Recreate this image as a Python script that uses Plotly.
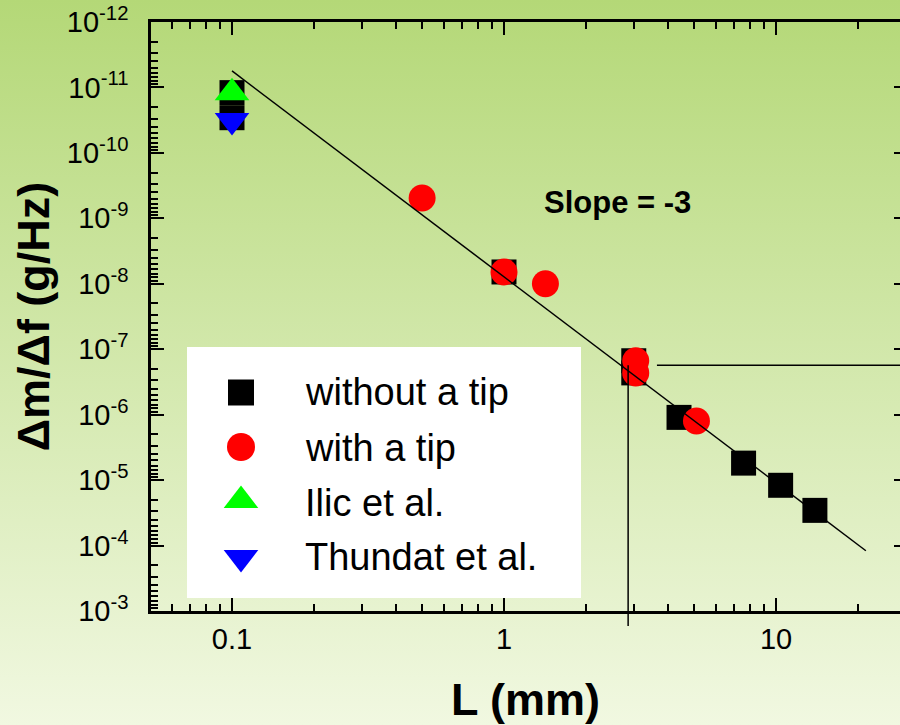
import base64
import math
import plotly.graph_objects as go

# ---------------- data ----------------
sq_L = [0.1, 0.1, 1.0, 3.0, 3.0, 4.4, 7.6, 10.4, 13.9]
sq_v = [1.2e-11, 2.9e-11, 6.6e-9, 1.5e-7, 2.3e-7, 1.1e-6, 5.5e-6, 1.2e-5, 2.9e-5]

ci_L = [0.5, 1.0, 1.42, 3.05, 3.05, 5.1]
ci_v = [4.9e-10, 6.6e-9, 1.0e-8, 1.5e-7, 2.3e-7, 1.25e-6]

ilic_L = [0.1]
ilic_v = [1.2e-11]

thun_L = [0.1]
thun_v = [3.2e-11]

fit_L = [0.1, 21.4]
fit_v = [5.6e-12, 1.2e-4]

guide_L = 2.86        # vertical guide
guide_v = 1.75e-7     # horizontal guide level
guide_h_start = 3.65

x_ticks = [0.1, 1, 10]
x_ticktext = ["0.1", "1", "10"]
y_exps = list(range(-12, -2))
y_ticks = [10.0 ** e for e in y_exps]
y_ticktext = ["10<sup>%d</sup>" % e for e in y_exps]

names = ["without a tip", "with a tip", "Ilic et al.", "Thundat et al."]
slope_label = "Slope = -3"

# ---------------- layout constants ----------------
W, H = 900, 725
ML, MR, MT, MB = 151, 0, 22, 114
PW, PH = W - ML - MR, H - MT - MB
XR = [-1.2978, 1.4559]
YR = [-3, -12]
FONT = "Liberation Sans, Arial, sans-serif"

# legend box layout (pixel positions)
LEG_BOX = (187, 347, 581, 598)
LEG_MARK_X = 241
LEG_MARK_Y = [392.5, 447, 500.6, 557.4]
LEG_TEXT_X = 303
LEG_TEXT_Y = [392, 448, 503, 557]
LEG_SYMBOLS = ["square", "circle", "triangle-up", "triangle-down"]
LEG_COLORS = ["black", "#ff0000", "#00ff00", "#0000ff"]
LEG_SIZES = [26, 28, 30, 30]


def xp(v):
    return (math.log10(v) - XR[0]) / (XR[1] - XR[0])


def yp(v):
    return (math.log10(v) - YR[0]) / (YR[1] - YR[0])


minor_x = [m * 10.0 ** d for d in range(-2, 2) for m in range(2, 10)]
minor_y = [m * 10.0 ** d for d in range(-13, -3) for m in range(2, 10)]

# background gradient image
svg = ('<svg xmlns="http://www.w3.org/2000/svg" width="900" height="725" '
       'preserveAspectRatio="none"><defs><linearGradient id="g" x1="0" y1="0" '
       'x2="0" y2="1"><stop offset="0" stop-color="#b4d877"/>'
       '<stop offset="1" stop-color="#f1f8e1"/></linearGradient></defs>'
       '<rect width="900" height="725" fill="url(#g)"/></svg>')
bg_src = "data:image/svg+xml;base64," + base64.b64encode(svg.encode()).decode()

fig = go.Figure()
fig.add_trace(go.Scatter(x=sq_L, y=sq_v, mode="markers", name=names[0],
                         showlegend=False,
                         marker=dict(symbol="square", size=25, color="black",
                                     opacity=1, line=dict(width=0))))
fig.add_trace(go.Scatter(x=ci_L, y=ci_v, mode="markers", name=names[1],
                         showlegend=False,
                         marker=dict(symbol="circle", size=27, color="#ff0000",
                                     opacity=1, line=dict(width=0))))
fig.add_trace(go.Scatter(x=ilic_L, y=ilic_v, mode="markers", name=names[2],
                         showlegend=False,
                         marker=dict(symbol="triangle-up", size=30, color="#00ff00",
                                     opacity=1, line=dict(width=0))))
fig.add_trace(go.Scatter(x=thun_L, y=thun_v, mode="markers", name=names[3],
                         showlegend=False,
                         marker=dict(symbol="triangle-down", size=30, color="#0000ff",
                                     opacity=1, line=dict(width=0))))
fig.add_trace(go.Scatter(x=fit_L, y=fit_v, mode="lines", showlegend=False,
                         line=dict(color="black", width=1.5), hoverinfo="skip"))

# legend drawn on a pixel-mapped overlay axis pair
fig.add_shape(type="rect", xref="x2", yref="y2",
              x0=LEG_BOX[0], x1=LEG_BOX[2], y0=LEG_BOX[1], y1=LEG_BOX[3],
              fillcolor="white", line=dict(width=0), layer="below")
fig.add_trace(go.Scatter(x=[LEG_MARK_X] * 4, y=LEG_MARK_Y, mode="markers",
                         xaxis="x2", yaxis="y2", showlegend=False,
                         hoverinfo="skip",
                         marker=dict(symbol=LEG_SYMBOLS, color=LEG_COLORS,
                                     size=LEG_SIZES, opacity=1,
                                     line=dict(width=0))))
for nm, ty in zip(names, LEG_TEXT_Y):
    fig.add_annotation(x=LEG_TEXT_X, y=ty, xref="x2", yref="y2", text=nm,
                       showarrow=False, xanchor="left", yanchor="middle",
                       font=dict(family=FONT, size=38, color="black"))

# right-side tick marks
fig.add_trace(go.Scatter(x=[None], y=[None], yaxis="y3", showlegend=False,
                         hoverinfo="skip"))

# guide lines
fig.add_shape(type="line", xref="paper", yref="paper",
              x0=xp(guide_L), x1=xp(guide_L), y0=yp(guide_v), y1=-15 / PH,
              line=dict(color="black", width=1.5))
fig.add_shape(type="line", xref="paper", yref="paper",
              x0=xp(guide_h_start), x1=1.02, y0=yp(guide_v), y1=yp(guide_v),
              line=dict(color="black", width=1.5))

fig.add_annotation(x=math.log10(2.62), y=math.log10(5.8e-10), xref="x", yref="y",
                   text="<b>%s</b>" % slope_label, showarrow=False,
                   font=dict(family=FONT, size=31, color="black"))

fig.add_layout_image(source=bg_src, xref="paper", yref="paper",
                     x=-ML / PW, y=1 + MT / PH, sizex=W / PW, sizey=H / PH,
                     xanchor="left", yanchor="top", sizing="stretch",
                     layer="below")

axis_common = dict(showgrid=False, zeroline=False, showline=True,
                   linecolor="black", linewidth=2.5, ticks="inside",
                   ticklen=13, tickwidth=2, tickcolor="black",
                   tickfont=dict(family=FONT, size=29, color="black"))

fig.update_layout(
    xaxis=dict(type="log", range=XR, tickvals=x_ticks, ticktext=x_ticktext,
               mirror="ticks",
               minor=dict(tickvals=minor_x, ticks="inside", ticklen=7,
                          tickwidth=1.5, tickcolor="black", showgrid=False),
               title=dict(text="<b>L (mm)</b>", standoff=32,
                          font=dict(family=FONT, size=45, color="black")),
               automargin=False, **axis_common),
    yaxis=dict(type="log", range=YR, tickvals=y_ticks, ticktext=y_ticktext,
               mirror=False, ticklabelstandoff=14,
               minor=dict(tickvals=minor_y, ticks="inside", ticklen=7,
                          tickwidth=1.5, tickcolor="black", showgrid=False),
               title=dict(text="<b>\u0394m/\u0394f (g/Hz)</b>", standoff=4,
                          font=dict(family=FONT, size=45, color="black")),
               automargin=False, **axis_common),
    xaxis2=dict(overlaying="x", anchor="y2", range=[ML, W], visible=False,
                fixedrange=True),
    yaxis2=dict(overlaying="y", anchor="x2", range=[H - MB, MT], visible=False,
                fixedrange=True),
    yaxis3=dict(overlaying="y", side="right", type="log", range=YR,
                tickvals=y_ticks, showticklabels=False, ticks="inside",
                ticklen=6, tickwidth=2, tickcolor="black", showline=False,
                showgrid=False, zeroline=False, automargin=False),
    width=W, height=H,
    margin=dict(l=ML, r=MR, t=MT, b=MB, pad=0, autoexpand=False),
    paper_bgcolor="#d6eaaf", plot_bgcolor="rgba(0,0,0,0)",
    font=dict(family=FONT, color="black"),
    showlegend=False,
)

fig.write_html("out.html")
